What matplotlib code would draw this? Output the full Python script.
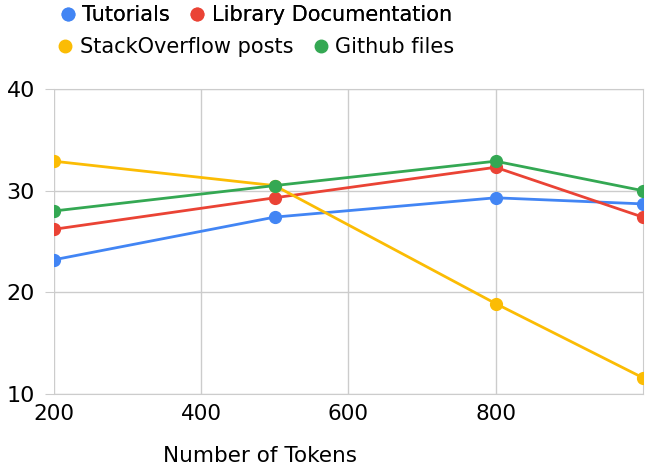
import matplotlib
matplotlib.use("Agg")
import matplotlib.pyplot as plt
from matplotlib.lines import Line2D

tokens = [200, 500, 800, 1000]
tutorials = [23.2, 27.4, 29.3, 28.7]
library_docs = [26.2, 29.3, 32.3, 27.4]
stackoverflow = [32.9, 30.5, 18.9, 11.6]
github = [28.0, 30.5, 32.9, 30.0]

names = ["Tutorials", "Library Documentation", "StackOverflow posts", "Github files"]
colors = ["#4285F4", "#EA4335", "#FBBC04", "#34A853"]
series = [tutorials, library_docs, stackoverflow, github]

plt.rcParams["font.family"] = ["DejaVu Sans"]

fig = plt.figure(figsize=(6.48, 4.71), dpi=100)
ax = fig.add_axes([0.083, 0.1635, 0.909, 0.6475])

for vals, c in zip(series, colors):
    ax.plot(tokens, vals, color=c, lw=2, marker="o", ms=8.5, zorder=3)

ax.set_xlim(200, 1000)
ax.set_ylim(10, 40)
ax.set_xticks([200, 400, 600, 800])
ax.set_yticks([10, 20, 30, 40])
ax.grid(True, color="#cccccc", lw=1)
for s in ax.spines.values():
    s.set_color("#cccccc")
ax.spines["left"].set_visible(False)
ax.tick_params(axis="x", length=0, labelsize=15.5, pad=7)
ax.tick_params(axis="y", length=6.5, color="#cccccc", labelsize=16, pad=7)
ax.set_xlabel("Number of Tokens", fontsize=15.5)
ax.xaxis.set_label_coords(0.35, -0.17)

def make_handle(c):
    return Line2D([], [], ls="none", marker="o", ms=9, color=c)

leg_kw = dict(loc="center", ncol=2, frameon=False, fontsize=15,
              handletextpad=0.2, columnspacing=0.8, handlelength=1.0,
              borderaxespad=0)
leg1 = fig.legend([make_handle(colors[0]), make_handle(colors[1])], names[:2],
                  bbox_to_anchor=(0.393, 0.968), **leg_kw)
fig.legend([make_handle(colors[2]), make_handle(colors[3])], names[2:],
           bbox_to_anchor=(0.393, 0.9), **leg_kw)
fig.add_artist(leg1)

fig.savefig("out.png", dpi=100)
